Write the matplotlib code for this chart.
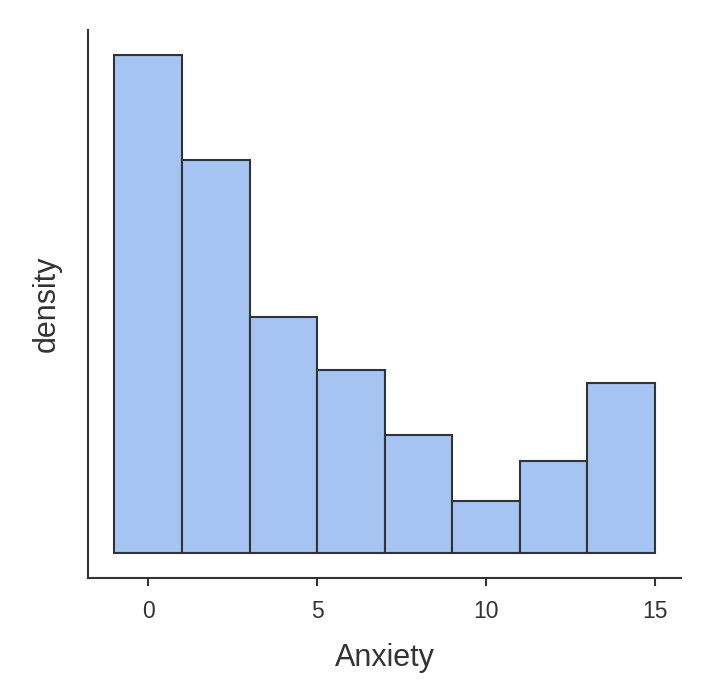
import matplotlib
matplotlib.use("Agg")
import matplotlib.pyplot as plt
import numpy as np

bin_edges = [-1, 1, 3, 5, 7, 9, 11, 13, 15]
counts = [38, 30, 18, 14, 9, 4, 7, 13]
xticks = [0, 5, 10, 15]

plt.rcParams['font.family'] = ['Liberation Sans', 'DejaVu Sans']

fig = plt.figure(figsize=(7.12, 7.0), dpi=100)
ax = fig.add_axes([88/712, 1-578/700, (681-88)/712, (578-30)/700])

total = sum(counts)
widths = np.diff(bin_edges)
dens = np.array(counts) / (total * widths)
ax.bar(bin_edges[:-1], dens, width=widths, align='edge',
       color='#a6c4f2', edgecolor='#333333', linewidth=1.5)

unit = 1.0 / (total * 2)
ax.set_xlim(-1.78, 15.77)
ax.set_ylim(-1.9 * unit, 39.9 * unit)
ax.set_xticks(xticks)
ax.set_yticks([])
for s in ['top', 'right']:
    ax.spines[s].set_visible(False)
for s in ['left', 'bottom']:
    ax.spines[s].set_color('#333333')
    ax.spines[s].set_linewidth(1.5)
ax.tick_params(axis='x', length=6, width=1.5, color='#333333',
               labelsize=16.5, labelcolor='#333333', pad=10)
ax.set_xlabel('Anxiety', fontsize=22, color='#333333', labelpad=14)
ax.set_ylabel('density', fontsize=22, color='#333333', labelpad=19)

fig.savefig('out.png', dpi=100)
